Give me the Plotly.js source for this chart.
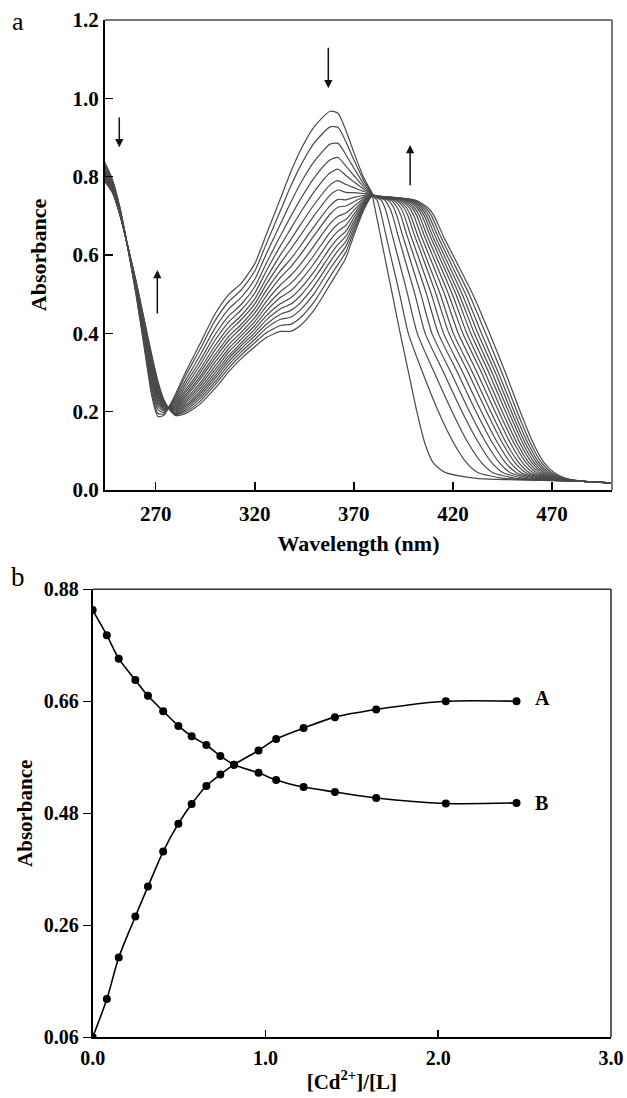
<!DOCTYPE html>
<html>
<head>
<meta charset="utf-8">
<script src="https://cdn.plot.ly/plotly-3.0.1.min.js"></script>
<style>html,body{margin:0;padding:0;background:#fff;}#chart{width:627px;height:1098px;}</style>
</head>
<body>
<div id="chart"></div>
<script>
// ---------- Panel a: UV-vis spectra ----------
// common wavelength grid (nm) for the short-wavelength / peak part of every spectrum
const wl = [244,248,252,256,260,264,268,271,274,277,280,285,292,300,307,313,320,326,333,338,343,350,358,362,366,370,375,379];
// absorbance of each spectrum on that grid (s00 = free ligand ... s17 = last addition)
const s00 = [.840,.795,.720,.615,.500,.370,.240,.188,.190,.215,.245,.300,.370,.450,.500,.527,.578,.655,.745,.810,.867,.928,.967,.962,.918,.862,.797,.760];
const s01 = [.836,.792,.718,.616,.503,.376,.250,.196,.194,.214,.240,.291,.356,.433,.482,.510,.559,.631,.714,.774,.827,.886,.927,.926,.889,.843,.790,.759];
const s02 = [.831,.788,.716,.616,.507,.383,.260,.206,.198,.213,.235,.280,.341,.414,.463,.491,.538,.605,.680,.733,.782,.839,.883,.885,.856,.822,.781,.758];
const s03 = [.826,.785,.714,.616,.510,.390,.269,.214,.202,.212,.230,.271,.327,.397,.445,.473,.519,.581,.650,.697,.742,.797,.843,.849,.827,.803,.774,.757];
const s04 = [.822,.783,.713,.617,.512,.395,.277,.221,.205,.211,.226,.263,.316,.383,.430,.459,.503,.561,.624,.666,.708,.762,.810,.819,.803,.787,.768,.756];
const s05 = [.819,.780,.712,.617,.515,.400,.285,.227,.208,.211,.222,.255,.305,.369,.416,.445,.488,.542,.601,.638,.677,.729,.779,.790,.780,.772,.762,.756];
const s06 = [.816,.778,.710,.617,.517,.404,.291,.233,.210,.210,.218,.249,.296,.358,.405,.434,.475,.527,.580,.614,.650,.701,.753,.766,.760,.759,.757,.755];
const s07 = [.813,.776,.709,.618,.519,.408,.297,.238,.213,.210,.215,.243,.287,.346,.393,.422,.463,.511,.560,.589,.623,.673,.726,.742,.741,.747,.752,.755];
const s08 = [.810,.774,.708,.618,.521,.412,.303,.243,.215,.209,.212,.238,.280,.337,.383,.413,.452,.497,.543,.569,.601,.650,.704,.722,.725,.736,.748,.754];
const s09 = [.808,.772,.707,.618,.523,.416,.308,.248,.217,.209,.209,.232,.271,.327,.372,.402,.440,.483,.524,.547,.576,.624,.680,.699,.707,.724,.744,.754];
const s10 = [.805,.771,.706,.619,.525,.419,.314,.252,.219,.208,.207,.227,.264,.317,.362,.393,.430,.470,.507,.527,.554,.600,.658,.679,.691,.714,.740,.753];
const s11 = [.803,.769,.705,.619,.526,.422,.318,.256,.221,.208,.204,.222,.257,.308,.353,.384,.420,.458,.492,.508,.534,.579,.638,.661,.676,.704,.736,.753];
const s12 = [.801,.767,.704,.619,.528,.425,.323,.260,.223,.207,.202,.217,.250,.300,.344,.375,.411,.446,.476,.490,.514,.558,.618,.643,.661,.695,.732,.752];
const s13 = [.799,.766,.703,.619,.529,.428,.327,.264,.225,.207,.199,.213,.244,.292,.337,.368,.402,.435,.463,.474,.496,.540,.600,.627,.648,.686,.729,.752];
const s14 = [.797,.765,.703,.619,.531,.431,.331,.268,.227,.206,.197,.209,.238,.285,.329,.360,.394,.424,.449,.458,.478,.521,.583,.611,.635,.678,.726,.751];
const s15 = [.795,.763,.702,.620,.532,.434,.336,.271,.228,.206,.195,.204,.232,.277,.321,.352,.385,.414,.436,.441,.460,.502,.565,.594,.622,.669,.722,.751];
const s16 = [.792,.762,.701,.620,.533,.437,.340,.276,.230,.205,.193,.200,.225,.269,.312,.344,.376,.402,.420,.423,.440,.481,.545,.576,.608,.660,.719,.750];
const s17 = [.790,.760,.700,.620,.535,.440,.345,.280,.232,.205,.190,.195,.218,.260,.303,.335,.366,.390,.405,.405,.420,.460,.525,.558,.593,.650,.715,.750];

// long-wavelength edge: absorbance levels and the wavelength (nm) where each spectrum crosses them
const edgeLevels = [0.75,0.74,0.72,0.70,0.65,0.60,0.50,0.40,0.30,0.20,0.12,0.07,0.045,0.03];
const r00 = [379.4,379.8,380.6,381.4,383.4,385.4,389.4,393.4,397.6,401.8,405.8,410.0,416.0,432.0];
const r01 = [379.7,381.7,383.0,384.0,386.2,388.5,393.1,397.5,404.7,412.7,420.4,426.8,432.5,445.5];
const r02 = [380.1,383.8,385.7,386.9,389.4,392.0,397.1,402.0,410.6,419.6,427.7,434.4,440.0,451.6];
const r03 = [380.4,385.7,388.1,389.6,392.3,395.1,400.8,406.0,415.3,424.6,433.0,439.6,445.1,455.8];
const r04 = [380.7,387.3,390.2,391.7,394.6,397.7,403.8,409.4,419.0,428.4,436.8,443.4,448.8,458.8];
const r05 = [380.9,388.8,392.0,393.8,396.8,400.1,406.7,412.6,422.3,431.7,440.0,446.5,451.9,461.3];
const r06 = [381.2,390.1,393.7,395.5,398.7,402.2,409.1,415.3,425.0,434.4,442.6,449.0,454.3,463.3];
const r07 = [381.4,391.4,395.3,397.3,400.6,404.3,411.5,418.0,427.7,437.0,445.0,451.3,456.6,465.2];
const r08 = [381.5,392.4,396.6,398.7,402.2,406.0,413.6,420.2,429.9,439.1,446.9,453.2,458.4,466.7];
const r09 = [381.7,393.6,398.1,400.3,403.9,407.9,415.8,422.7,432.2,441.3,449.0,455.1,460.3,468.3];
const r10 = [381.9,394.6,399.4,401.8,405.5,409.6,417.8,425.0,434.4,443.2,450.8,456.9,462.0,469.7];
const r11 = [382.1,395.6,400.6,403.1,406.9,411.2,419.7,427.0,436.2,444.9,452.3,458.3,463.5,470.8];
const r12 = [382.2,396.6,401.9,404.4,408.4,412.7,421.5,429.0,438.1,446.6,453.8,459.8,464.9,472.0];
const r13 = [382.4,397.4,402.9,405.6,409.6,414.1,423.1,430.8,439.7,448.1,455.2,461.0,466.1,473.0];
const r14 = [382.5,398.2,404.0,406.7,410.9,415.5,424.7,432.6,441.4,449.5,456.5,462.3,467.3,474.0];
const r15 = [382.7,399.1,405.1,407.9,412.2,416.9,426.4,434.4,442.9,450.9,457.8,463.4,468.5,474.9];
const r16 = [382.8,400.1,406.3,409.2,413.6,418.4,428.2,436.5,444.7,452.4,459.1,464.7,469.7,476.0];
const r17 = [383.0,401.0,407.5,410.5,415.0,420.0,430.0,438.5,446.5,454.0,460.5,466.0,471.0,477.0];
// common baseline tail
const tailWl  = [486, 500];
const tailAbs = [0.022, 0.018];

const wlTicks = [270, 320, 370, 420, 470];
const absTicks = [0, 0.2, 0.4, 0.6, 0.8, 1.0, 1.2];

// ---------- Panel b: titration ----------
const ratio = [0, 0.082, 0.151, 0.247, 0.320, 0.408, 0.496, 0.573, 0.658, 0.739, 0.818, 0.960, 1.062, 1.221, 1.402, 1.641, 2.044, 2.453];
const seriesA = [0.060, 0.130, 0.206, 0.281, 0.336, 0.400, 0.451, 0.487, 0.520, 0.541, 0.559, 0.585, 0.606, 0.626, 0.646, 0.660, 0.675, 0.675];
const seriesB = [0.842, 0.796, 0.753, 0.714, 0.685, 0.657, 0.630, 0.611, 0.595, 0.575, 0.559, 0.544, 0.531, 0.518, 0.509, 0.498, 0.488, 0.489];
const ratioTicks = [0, 1, 2, 3];
const absTickPos2 = [0.06, 0.265, 0.47, 0.675, 0.88];
const absTickText2 = ['0.06', '0.26', '0.48', '0.66', '0.88'];

const leftParts  = [s00,s01,s02,s03,s04,s05,s06,s07,s08,s09,s10,s11,s12,s13,s14,s15,s16,s17];
const rightParts = [r00,r01,r02,r03,r04,r05,r06,r07,r08,r09,r10,r11,r12,r13,r14,r15,r16,r17];

const serif = 'Liberation Serif, Times New Roman, serif';
const traces = [];
leftParts.forEach((s, i) => {
  traces.push({
    type: 'scatter', mode: 'lines', xaxis: 'x', yaxis: 'y',
    x: wl.concat(rightParts[i], tailWl),
    y: s.concat(edgeLevels, tailAbs),
    line: {color: '#4a4a4a', width: 1.2, shape: 'spline', smoothing: 0.6},
    hoverinfo: 'skip'
  });
});
traces.push({
  type: 'scatter', mode: 'lines+markers', xaxis: 'x2', yaxis: 'y2',
  x: ratio, y: seriesA, name: 'A',
  line: {color: '#000', width: 1.6, shape: 'spline', smoothing: 0.8},
  marker: {color: '#000', size: 8}
});
traces.push({
  type: 'scatter', mode: 'lines+markers', xaxis: 'x2', yaxis: 'y2',
  x: ratio, y: seriesB, name: 'B',
  line: {color: '#000', width: 1.6, shape: 'spline', smoothing: 0.8},
  marker: {color: '#000', size: 8}
});

const tickFontA = {family: serif, size: 21, color: '#000', weight: 700};
const tickFontB = {family: serif, size: 20, color: '#000', weight: 700};
const titleFont = {family: serif, size: 22, color: '#000', weight: 700};

function arrow(x, yTip, yTail) {
  return {xref: 'x', yref: 'y', axref: 'x', ayref: 'y', x: x, y: yTip, ax: x, ay: yTail,
          text: '', showarrow: true, arrowhead: 2, arrowsize: 1.1, arrowwidth: 1.5,
          arrowcolor: '#111', standoff: 0, startstandoff: 0};
}

const layout = {
  width: 627, height: 1098,
  margin: {l: 0, r: 0, t: 0, b: 0},
  paper_bgcolor: '#fff', plot_bgcolor: '#fff',
  showlegend: false,
  xaxis: {
    domain: [0.1675, 0.9761], anchor: 'y', range: [244.4, 500.3],
    tickvals: wlTicks, ticks: 'inside', ticklen: 8, tickwidth: 1.5, tickcolor: '#000',
    showline: true, linecolor: '#000', linewidth: 2, mirror: false,
    showgrid: false, zeroline: false, tickfont: tickFontA, ticklabelstandoff: 4,
    title: {text: 'Wavelength (nm)', font: titleFont, standoff: 10}
  },
  yaxis: {
    domain: [0.5537, 0.9818], anchor: 'x', range: [0, 1.2],
    tickvals: absTicks, tickformat: '.1f', ticks: 'inside', ticklen: 8, tickwidth: 1.5, tickcolor: '#000',
    showline: true, linecolor: '#000', linewidth: 2, mirror: false,
    showgrid: false, zeroline: false, tickfont: tickFontA,
    title: {text: 'Absorbance', font: titleFont, standoff: 20}
  },
  xaxis2: {
    domain: [0.1478, 0.9745], anchor: 'y2', range: [0, 3],
    tickvals: ratioTicks, tickformat: '.1f', ticks: 'inside', ticklen: 7, tickwidth: 1.5, tickcolor: '#000',
    showline: true, linecolor: '#000', linewidth: 2, mirror: false,
    showgrid: false, zeroline: false, tickfont: tickFontB, ticklabelstandoff: 2,
    title: {text: '[Cd<sup>2+</sup>]/[L]', font: {family: serif, size: 21, color: '#000', weight: 700}, standoff: 6}
  },
  yaxis2: {
    domain: [0.05528, 0.4633], anchor: 'x2', range: [0.06, 0.88],
    tickvals: absTickPos2, ticktext: absTickText2, ticks: 'outside', ticklen: 8, tickwidth: 1.5, tickcolor: '#000',
    showline: true, linecolor: '#000', linewidth: 2, mirror: false,
    showgrid: false, zeroline: false, tickfont: tickFontB,
    title: {text: 'Absorbance', font: {family: serif, size: 21, color: '#000', weight: 700}, standoff: 5}
  },
  shapes: [
    {type: 'line', xref: 'x domain', yref: 'y domain', x0: 0, x1: 1, y0: 1, y1: 1, line: {color: '#777', width: 2}},
    {type: 'line', xref: 'x domain', yref: 'y domain', x0: 1, x1: 1, y0: 0, y1: 1, line: {color: '#777', width: 2}},
    {type: 'line', xref: 'x2 domain', yref: 'y2 domain', x0: 0, x1: 1, y0: 1, y1: 1, line: {color: '#333', width: 1.6}},
    {type: 'line', xref: 'x2 domain', yref: 'y2 domain', x0: 1, x1: 1, y0: 0, y1: 1, line: {color: '#333', width: 1.6}}
  ],
  annotations: [
    {xref: 'paper', yref: 'paper', x: 0.028, y: 0.980, text: 'a', showarrow: false,
     font: {family: serif, size: 26, color: '#000'}, xanchor: 'center', yanchor: 'middle'},
    {xref: 'paper', yref: 'paper', x: 0.029, y: 0.4745, text: 'b', showarrow: false,
     font: {family: serif, size: 27, color: '#000'}, xanchor: 'center', yanchor: 'middle'},
    arrow(251.6, 0.875, 0.955),
    arrow(270.8, 0.562, 0.447),
    arrow(357.1, 1.026, 1.133),
    arrow(398.4, 0.881, 0.774),
    {xref: 'x2', yref: 'y2', x: 2.55, y: 0.681, text: 'A', showarrow: false, xanchor: 'left', yanchor: 'middle',
     font: {family: serif, size: 20, color: '#000', weight: 700}},
    {xref: 'x2', yref: 'y2', x: 2.55, y: 0.489, text: 'B', showarrow: false, xanchor: 'left', yanchor: 'middle',
     font: {family: serif, size: 20, color: '#000', weight: 700}}
  ]
};

Plotly.newPlot('chart', traces, layout, {staticPlot: true, displayModeBar: false});
</script>
</body>
</html>
